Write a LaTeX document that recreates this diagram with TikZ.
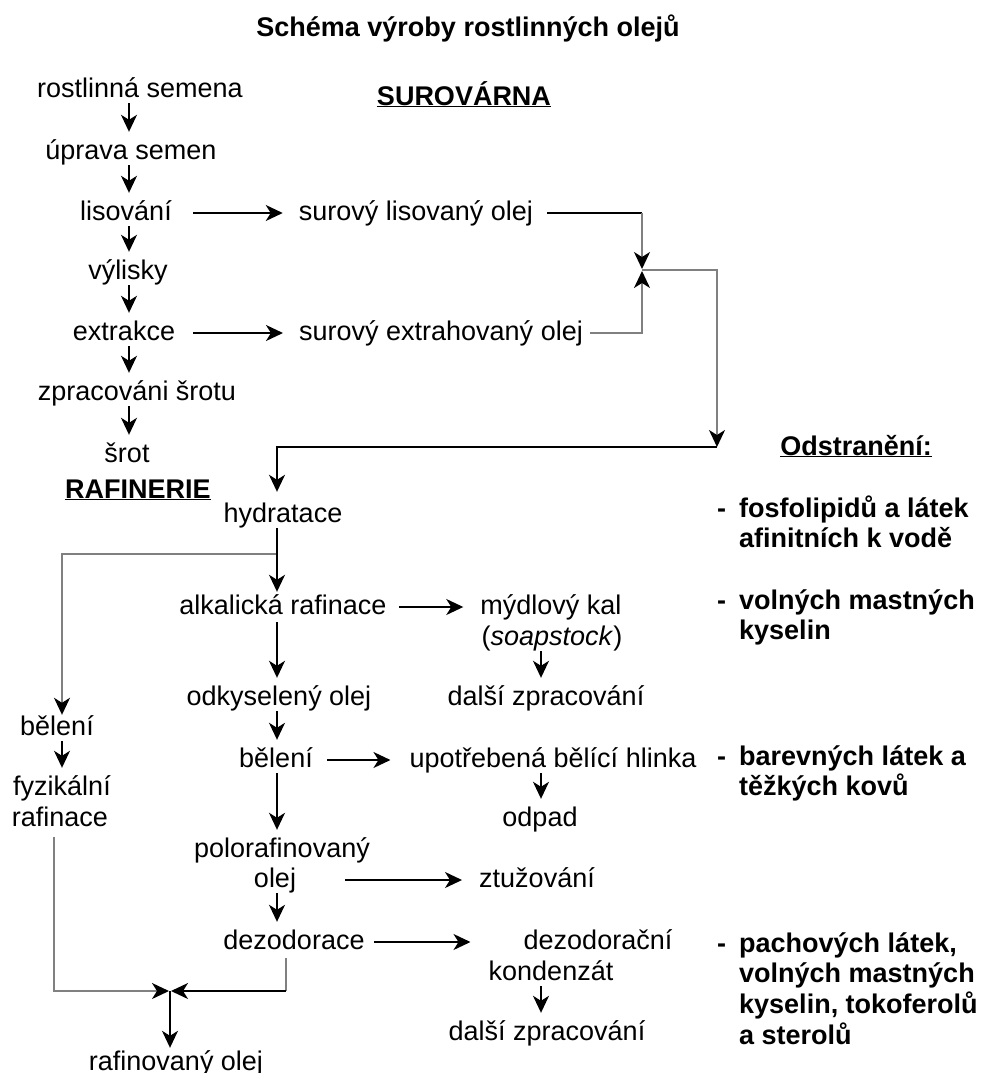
\documentclass[tikz,border=0pt]{standalone}
\usepackage{fontspec}
\setmainfont{Liberation Sans}
\usepackage{tikz}
\usetikzlibrary{arrows.meta,positioning,calc}

\begin{document}
\begin{tikzpicture}[x=1pt,y=-1pt,
  txt/.style={inner sep=0pt,text height=20pt,text depth=6pt,font=\fontsize{27}{31}\selectfont},
  hdr/.style={txt,font=\fontsize{27}{31}\selectfont\bfseries},
  rem/.style={inner sep=0pt,anchor=base west,font=\fontsize{27}{30.5}\selectfont\bfseries},
  flow/.style={line width=1.8pt,-{Stealth[length=17pt,width=16pt,inset=5pt]}},
  vflow/.style={flow,shorten >=7pt},
  plain/.style={line width=1.8pt},
  side/.style={line width=1.8pt,draw=gray,-{Stealth[length=17pt,width=16pt,inset=5pt,color=black]}}]
\path[fill=white,use as bounding box] (0,0) rectangle (982,1073);

% spines
\coordinate (lx) at (129,0);
\coordinate (mx) at (277,0);
\coordinate (rx) at (541,0);
\coordinate (fx) at (62,0);

\node[hdr] (title) at (468,30) {Schéma výroby rostlinných olejů};
\node[hdr] (sur) at (464,98) {\underline{SUROVÁRNA}};
\node[hdr] (raff) at (138,491) {\underline{RAFINERIE}};
\node[hdr] (odst) at (856,448) {\underline{Odstranění:}};

% surovarna
\node[txt] (rs) at (140,90) {rostlinná semena};
\node[txt] (up) at (131,152) {úprava semen};
\node[txt] (lis) at (126,213) {lisování};
\node[txt] (vyl) at (128,272) {výlisky};
\node[txt] (ext) at (124,333) {extrakce};
\node[txt] (zpr) at (137,393) {zpracováni šrotu};
\node[txt] (srot) at (127,455) {šrot};
\node[txt] (slo) at (416,213) {surový lisovaný olej};
\node[txt] (seo) at (441,333) {surový extrahovaný olej};

\draw[vflow] (rs.south -| lx) -- (up.north -| lx);
\draw[vflow] (up.south -| lx) -- (lis.north -| lx);
\draw[vflow] (lis.south -| lx) -- (vyl.north -| lx);
\draw[vflow] (vyl.south -| lx) -- (ext.north -| lx);
\draw[vflow] (ext.south -| lx) -- (zpr.north -| lx);
\draw[vflow] (zpr.south -| lx) -- (srot.north -| lx);
\draw[flow,shorten <=21pt,shorten >=16pt] (lis) -- (slo);
\draw[flow,shorten <=18pt,shorten >=16pt] (ext) -- (seo);

% joining the crude oils
\coordinate (jn) at (642,270);
\coordinate (rc) at (717,447);
\draw[plain,shorten <=14pt] (slo.east) -- (slo.east -| jn);
\draw[side,shorten >=1pt] (slo.east -| jn) -- (jn);
\draw[side,shorten <=7pt,shorten >=1pt] (seo.east) -| (jn);
\draw[side] (jn) -| (rc);

% rafinerie
\node[txt] (hyd) at (283,515) {hydratace};
\node[txt] (alk) at (283,607) {alkalická rafinace};
\node[txt] (kal) at (551,607) {mýdlový kal};
\node[txt] (soap) at (552,638) {(\textit{soapstock})};
\node[txt] (dal1) at (546,698) {další zpracování};
\node[txt] (odk) at (279,698) {odkyselený olej};
\node[txt] (bel2) at (276,760) {bělení};
\node[txt] (upo) at (553,760) {upotřebená bělící hlinka};
\node[txt] (odp) at (540,819) {odpad};
\node[txt] (polo) at (282,850) {polorafinovaný};
\node[txt] (polo2) at (275,880) {olej};
\node[txt] (ztu) at (537,880) {ztužování};
\node[txt] (dezo) at (294,942) {dezodorace};
\node[txt] (dez1) at (598,942) {dezodorační};
\node[txt] (dez2) at (551,973) {kondenzát};
\node[txt] (dal2) at (547,1033) {další zpracování};
\node[txt] (bel1) at (57,728) {bělení};
\node[txt] (fyz) at (62,788) {fyzikální};
\node[txt] (raf) at (60,819) {rafinace};
\node[txt] (rol) at (176,1063) {rafinovaný olej};

\coordinate (br) at (277,554);
\draw[side] (br) -| (bel1.north -| fx);
\draw[flow,shorten >=10pt] (rc) -| (hyd.north -| mx);
\draw[flow,shorten >=2pt] (hyd.south -| mx) -- (alk.north -| mx);
\draw[flow,shorten <=12pt,shorten >=17pt] (alk) -- (kal);
\draw[vflow,shorten <=2pt] (alk.south -| mx) -- (odk.north -| mx);
\draw[vflow] (soap.south -| rx) -- (dal1.north -| rx);
\draw[vflow] (odk.south -| mx) -- (bel2.north -| mx);
\draw[flow,shorten <=14pt,shorten >=19pt] (bel2) -- (upo);
\draw[vflow] (upo.south -| rx) -- (odp.north -| rx);
\draw[vflow] (bel2.south -| mx) -- (polo.north -| mx);
\draw[flow,shorten <=49pt,shorten >=17pt] (polo2) -- (ztu);
\draw[vflow] (polo2.south -| mx) -- (dezo.north -| mx);
\draw[flow,shorten <=9pt,shorten >=53pt] (dezo) -- (dez1);
\draw[vflow] (dez2.south -| rx) -- (dal2.north -| rx);
\draw[vflow] (bel1.south -| fx) -- (fyz.north -| fx);

% rafinovany olej
\coordinate (jn2) at (170,991);
\coordinate (gx) at (54,0);
\coordinate (dx) at (286,0);
\draw[side,shorten <=5pt,shorten >=1pt] (raf.south -| gx) |- (jn2);
\draw[plain,draw=gray,shorten <=3pt] (dezo.south -| dx) -- (jn2 -| dx);
\draw[flow,shorten >=1pt] (jn2 -| dx) -- (jn2);
\draw[flow,shorten >=2pt] (jn2) -- (rol.north -| jn2);

% odstraneni
\node[rem] (r1) at (717,517) {\begin{tabular}[t]{@{}l@{\hspace{13pt}}l@{}}- & fosfolipidů a látek\\ & afinitních k vodě\end{tabular}};
\node[rem] (r2) at (717,609) {\begin{tabular}[t]{@{}l@{\hspace{13pt}}l@{}}- & volných mastných\\ & kyselin\end{tabular}};
\node[rem] (r3) at (717,765) {\begin{tabular}[t]{@{}l@{\hspace{13pt}}l@{}}- & barevných látek a\\ & těžkých kovů\end{tabular}};
\node[rem] (r4) at (717,952) {\begin{tabular}[t]{@{}l@{\hspace{13pt}}l@{}}- & pachových látek,\\ & volných mastných\\ & kyselin, tokoferolů\\ & a sterolů\end{tabular}};
\end{tikzpicture}
\end{document}
